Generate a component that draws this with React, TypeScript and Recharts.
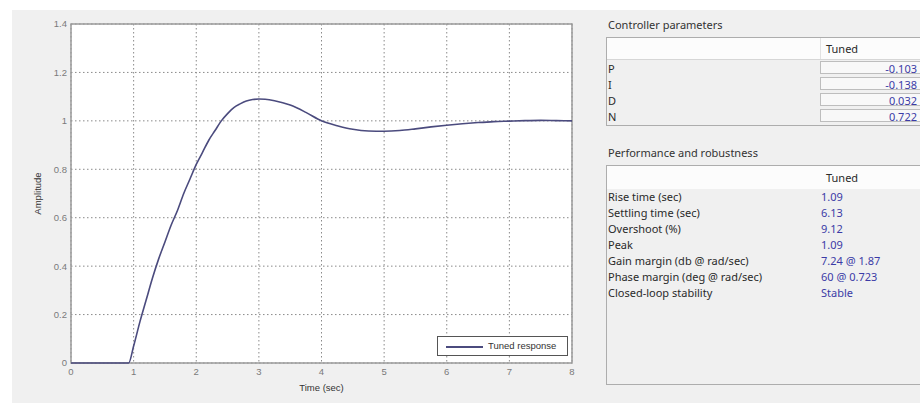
import React from "react";
import {
  LineChart,
  Line,
  XAxis,
  YAxis,
  CartesianGrid,
  ReferenceArea,
} from "recharts";

// step response
const timeSec = [
  0, 0.92, 1.0, 1.1, 1.2, 1.3, 1.4, 1.5, 1.6, 1.7, 1.8, 1.9, 2.0, 2.1, 2.2,
  2.3, 2.4, 2.5, 2.6, 2.7, 2.8, 2.9, 3.0, 3.1, 3.25, 3.5, 3.75, 4.0, 4.25,
  4.5, 4.75, 5.0, 5.25, 5.5, 5.75, 6.0, 6.25, 6.5, 6.75, 7.0, 7.25, 7.5,
  7.75, 8.0,
];
const amplitude = [
  0, 0, 0.07, 0.17, 0.26, 0.35, 0.43, 0.5, 0.57, 0.63, 0.7, 0.76, 0.82,
  0.87, 0.92, 0.96, 1.0, 1.03, 1.055, 1.07, 1.082, 1.088, 1.09, 1.089, 1.083,
  1.065, 1.035, 1.0, 0.98, 0.965, 0.958, 0.957, 0.96, 0.967, 0.975, 0.982,
  0.988, 0.993, 0.997, 0.999, 1.001, 1.002, 1.001, 1.0,
];

const xTicks = [0, 1, 2, 3, 4, 5, 6, 7, 8];
const yTicks = [0, 0.2, 0.4, 0.6, 0.8, 1, 1.2, 1.4];

const controllerLabels = ["P", "I", "D", "N"];
const controllerValues = ["-0.103", "-0.138", "0.032", "0.722"];

const perfLabels = [
  "Rise time (sec)",
  "Settling time (sec)",
  "Overshoot (%)",
  "Peak",
  "Gain margin (db @ rad/sec)",
  "Phase margin (deg @ rad/sec)",
  "Closed-loop stability",
];
const perfValues = ["1.09", "6.13", "9.12", "1.09", "7.24 @ 1.87", "60 @ 0.723", "Stable"];

const data = timeSec.map((t, i) => ({ t, y: amplitude[i] }));

const LINE_COLOR = "#4b4b7e";
const VALUE_COLOR = "#3b3ba6";
const UI_FONT = "'Noto Sans', sans-serif";
const AXIS_FONT = "'Liberation Sans', Arial, sans-serif";

function ControllerTable() {
  return (
    <div
      style={{
        position: "absolute",
        left: 606,
        top: 37,
        width: 330,
        height: 87,
        border: "1px solid #adadad",
      }}
    >
      <div
        style={{
          height: 21,
          background: "#fcfcfc",
          borderBottom: "1px solid #d6d6d6",
          position: "relative",
        }}
      >
        <div style={{ position: "absolute", left: 213, top: 0, bottom: 0, borderLeft: "1px solid #e2e2e2" }} />
        <span style={{ position: "absolute", left: 219, top: 3 }}>Tuned</span>
      </div>
      {controllerLabels.map((label, i) => (
        <div key={label} style={{ position: "relative", height: 16 }}>
          <span style={{ position: "absolute", left: 1, top: 1 }}>{label}</span>
          <div
            style={{
              position: "absolute",
              left: 213,
              top: 1,
              width: 104,
              height: 13,
              background: "#f8f8f8",
              border: "1px solid #bdbdbd",
              color: VALUE_COLOR,
              textAlign: "right",
              lineHeight: "13px",
              paddingRight: 6,
              boxSizing: "border-box",
            }}
          >
            {controllerValues[i]}
          </div>
        </div>
      ))}
    </div>
  );
}

function PerformanceTable() {
  return (
    <div
      style={{
        position: "absolute",
        left: 606,
        top: 165,
        width: 330,
        height: 218,
        border: "1px solid #adadad",
      }}
    >
      <div style={{ height: 23, background: "#fcfcfc", position: "relative" }}>
        <span style={{ position: "absolute", left: 219, top: 4 }}>Tuned</span>
      </div>
      {perfLabels.map((label, i) => (
        <div key={label} style={{ position: "relative", height: 16 }}>
          <span style={{ position: "absolute", left: 1, top: 0 }}>{label}</span>
          <span style={{ position: "absolute", left: 214, top: 0, color: VALUE_COLOR }}>
            {perfValues[i]}
          </span>
        </div>
      ))}
    </div>
  );
}

export default function App() {
  return (
    <div
      style={{
        position: "absolute",
        left: 0,
        top: 0,
        width: 920,
        height: 403,
        overflow: "hidden",
        background: "#ffffff",
        fontFamily: UI_FONT,
        fontSize: 11,
        color: "#2a2a2a",
      }}
    >
      <div
        style={{
          position: "absolute",
          left: 12,
          top: 10,
          width: 908,
          height: 393,
          background: "#f0f0f0",
        }}
      />

      {/* Step plot */}
      <div style={{ position: "absolute", left: 0, top: 0 }}>
        <LineChart
          width={600}
          height={403}
          data={data}
          margin={{ top: 24, right: 28, bottom: 10, left: 0 }}
        >
          <CartesianGrid
            fill="#ffffff"
            fillOpacity={1}
            stroke="#8a8a8a"
            strokeDasharray="1.5 2.5"
            horizontalValues={yTicks}
            verticalValues={xTicks}
          />
          <XAxis
            dataKey="t"
            type="number"
            domain={[0, 8]}
            ticks={xTicks}
            axisLine={false}
            tickLine={false}
            tickSize={0}
            tickMargin={5}
            height={30}
            tick={{ fill: "#7a7a7a", fontSize: 9.5, fontFamily: AXIS_FONT }}
            label={{
              value: "Time (sec)",
              position: "insideBottom",
              offset: 2,
              fill: "#333",
              fontSize: 9.5,
              fontFamily: AXIS_FONT,
            }}
          />
          <YAxis
            type="number"
            domain={[0, 1.4]}
            ticks={yTicks}
            axisLine={false}
            tickLine={false}
            tickSize={0}
            tickMargin={4}
            width={71}
            tick={{ fill: "#7a7a7a", fontSize: 9.5, fontFamily: AXIS_FONT }}
            label={{
              value: "Amplitude",
              angle: -90,
              position: "insideLeft",
              offset: 38,
              fill: "#333",
              fontSize: 9.5,
              fontFamily: AXIS_FONT,
              style: { textAnchor: "middle" },
            }}
          />
          <ReferenceArea
            x1={0}
            x2={8}
            y1={0}
            y2={1.4}
            fill="none"
            stroke="#9a9a9a"
            strokeWidth={1.5}
          />
          <Line
            type="monotone"
            dataKey="y"
            stroke={LINE_COLOR}
            strokeWidth={1.6}
            dot={false}
            isAnimationActive={false}
          />
        </LineChart>
      </div>

      {/* Legend box */}
      <div
        style={{
          position: "absolute",
          left: 437,
          top: 336,
          width: 131,
          height: 20,
          boxSizing: "border-box",
          background: "#ffffff",
          border: "1px solid #555",
          fontFamily: AXIS_FONT,
          fontSize: 9.5,
          color: "#333",
        }}
      >
        <div
          style={{
            position: "absolute",
            left: 8,
            top: 9,
            width: 37,
            height: 1.5,
            background: LINE_COLOR,
          }}
        />
        <span style={{ position: "absolute", left: 50, top: 3 }}>Tuned response</span>
      </div>

      {/* Right side panels */}
      <div style={{ position: "absolute", left: 608, top: 17, color: "#333" }}>
        Controller parameters
      </div>
      <ControllerTable />

      <div style={{ position: "absolute", left: 608, top: 145, color: "#333" }}>
        Performance and robustness
      </div>
      <PerformanceTable />
    </div>
  );
}
